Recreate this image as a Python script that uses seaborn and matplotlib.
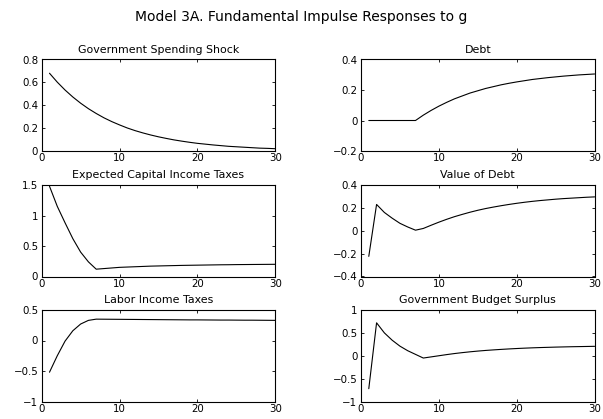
import numpy as np
import pandas as pd
import matplotlib
matplotlib.use("Agg")
import matplotlib.pyplot as plt
import seaborn as sns

periods = list(range(1, 31))

gov_spending = [0.68, 0.602, 0.533, 0.472, 0.418, 0.370, 0.328, 0.290, 0.257, 0.228,
                0.201, 0.178, 0.158, 0.140, 0.124, 0.110, 0.097, 0.086, 0.076, 0.067,
                0.060, 0.053, 0.047, 0.041, 0.037, 0.033, 0.029, 0.025, 0.023, 0.020]

debt = [0.0, 0.0, 0.0, 0.0, 0.0, 0.0, 0.0, 0.035, 0.066, 0.094,
        0.119, 0.142, 0.161, 0.180, 0.195, 0.210, 0.222, 0.234, 0.244, 0.253,
        0.261, 0.269, 0.275, 0.281, 0.286, 0.291, 0.295, 0.299, 0.302, 0.305]

cap_taxes = [1.48, 1.15, 0.88, 0.62, 0.40, 0.24, 0.12, 0.13, 0.14, 0.15,
             0.155, 0.16, 0.165, 0.17, 0.173, 0.176, 0.179, 0.182, 0.184, 0.186,
             0.188, 0.19, 0.192, 0.193, 0.195, 0.196, 0.197, 0.198, 0.199, 0.20]

value_debt = [-0.224, 0.23, 0.16, 0.11, 0.065, 0.033, 0.005, 0.02, 0.048, 0.075,
              0.10, 0.123, 0.143, 0.162, 0.179, 0.194, 0.207, 0.219, 0.230, 0.240,
              0.249, 0.257, 0.264, 0.270, 0.276, 0.281, 0.285, 0.289, 0.293, 0.296]

labor_taxes = [-0.52, -0.25, -0.01, 0.16, 0.27, 0.33, 0.35, 0.349, 0.348, 0.347,
               0.346, 0.345, 0.344, 0.343, 0.342, 0.341, 0.340, 0.339, 0.338, 0.338,
               0.337, 0.336, 0.335, 0.335, 0.334, 0.333, 0.333, 0.332, 0.331, 0.330]

budget_surplus = [-0.72, 0.72, 0.50, 0.34, 0.21, 0.11, 0.03, -0.05, -0.025, 0.0,
                  0.025, 0.048, 0.068, 0.086, 0.102, 0.116, 0.128, 0.139, 0.149, 0.158,
                  0.166, 0.173, 0.179, 0.184, 0.189, 0.193, 0.197, 0.200, 0.203, 0.206]

titles = ["Government Spending Shock", "Debt",
          "Expected Capital Income Taxes", "Value of Debt",
          "Labor Income Taxes", "Government Budget Surplus"]
series = [gov_spending, debt, cap_taxes, value_debt, labor_taxes, budget_surplus]
yticks = [[0, 0.2, 0.4, 0.6, 0.8], [-0.2, 0, 0.2, 0.4],
          [0, 0.5, 1, 1.5], [-0.4, -0.2, 0, 0.2, 0.4],
          [-1, -0.5, 0, 0.5], [-1, -0.5, 0, 0.5, 1]]
ylabels = [["0", "0.2", "0.4", "0.6", "0.8"], ["\u22120.2", "0", "0.2", "0.4"],
           ["0", "0.5", "1", "1.5"], ["\u22120.4", "\u22120.2", "0", "0.2", "0.4"],
           ["\u22121", "\u22120.5", "0", "0.5"], ["\u22121", "\u22120.5", "0", "0.5", "1"]]
xticks = [0, 10, 20, 30]

sns.set_theme(style="white")
plt.rcParams['font.family'] = ['DejaVu Sans']
plt.rcParams['text.color'] = 'black'
plt.rcParams['axes.titlecolor'] = 'black'
plt.rcParams['xtick.color'] = 'black'
plt.rcParams['ytick.color'] = 'black'
plt.rcParams['xtick.labelcolor'] = 'black'
plt.rcParams['ytick.labelcolor'] = 'black'

fig = plt.figure(figsize=(6.03, 4.19), dpi=100)
W, H = 603.0, 419.0
col_left = [41.7, 361.0]
col_w = 233.6
row_top = [59.5, 185.0, 310.0]
row_h = 91.5

fig.text(301 / W, 1 - 21 / H, "Model 3A. Fundamental Impulse Responses to g",
         ha="center", va="baseline", fontsize=10, color="black")

for i, (vals, title) in enumerate(zip(series, titles)):
    r, c = divmod(i, 2)
    ax = fig.add_axes([col_left[c] / W, 1 - (row_top[r] + row_h) / H, col_w / W, row_h / H])
    df = pd.DataFrame({"t": periods, "v": vals})
    sns.lineplot(data=df, x="t", y="v", ax=ax, color="black", linewidth=0.8)
    ax.set_xlim(0, 30)
    ax.set_ylim(yticks[i][0], yticks[i][-1])
    ax.set_xticks(xticks)
    ax.set_xticklabels([str(t) for t in xticks])
    ax.set_yticks(yticks[i])
    ax.set_yticklabels(ylabels[i])
    ax.set_xlabel("")
    ax.set_ylabel("")
    ax.set_title(title, fontsize=7.9, pad=5, color="black")
    ax.tick_params(direction="in", length=2.5, width=0.6, labelsize=7.4, pad=2.5,
                   top=True, right=True, bottom=True, left=True,
                   colors="black", labelcolor="black")
    ax.tick_params(axis="x", pad=1.5)
    for sp in ax.spines.values():
        sp.set_visible(True)
        sp.set_color("black")
        sp.set_linewidth(0.8)
    ax.set_facecolor("white")

fig.savefig("out.png", dpi=100, facecolor="white")
